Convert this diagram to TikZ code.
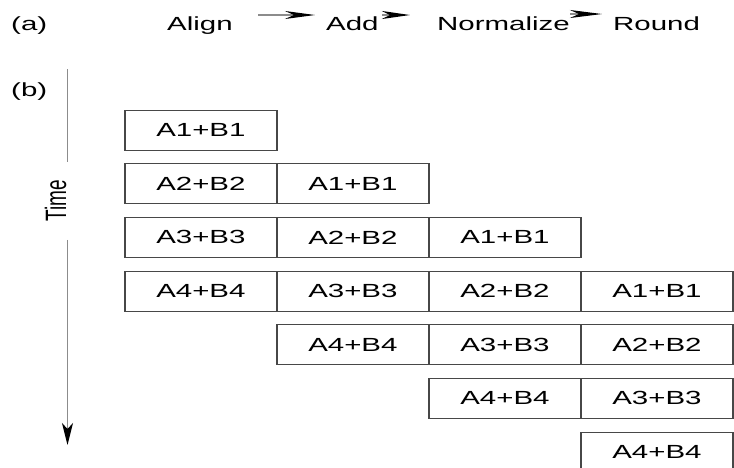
\documentclass[tikz,border=0pt]{standalone}
\usepackage{graphicx}
\usepackage{fontspec}
\setmainfont{Liberation Sans}[FakeStretch=1.55]
\newfontfamily\plainsans{Liberation Sans}
\usetikzlibrary{arrows.meta}
\begin{document}
\begin{tikzpicture}[x=1pt,y=-1pt,
  txt/.style={inner sep=0pt, anchor=base west, font=\fontsize{19}{22}\selectfont, text=black},
  cell/.style={draw=black!72, line width=1.2pt, minimum width=152pt, minimum height=40pt,
               inner sep=0pt, anchor=north west, font=\fontsize{19}{22}\selectfont, text=black},
  shaft/.style={draw=black!45, line width=1.3pt},
  timeline/.style={draw=black!45, line width=1.6pt}]
\useasboundingbox (0,0) rectangle (734,467);
\clip (0,0) rectangle (734,467);

% (a) pipeline stages
\node[txt] (la) at (11,30) {(a)};
\node[txt] (align) at (167,30) {Align};
\node[txt] (add) at (326,30) {Add};
\node[txt] (norm) at (437,30) {Normalize};
\node[txt] (round) at (613,30) {Round};

\coordinate (a1s) at (258,15); \coordinate (a1e) at (315,15);
\coordinate (a2s) at (382,15); \coordinate (a2e) at (410,15);
\coordinate (a3s) at (570,14); \coordinate (a3e) at (602,14);
\draw[shaft, -{Stealth[length=30pt,width=8pt,inset=9pt,color=black]}] (a1s) -- (a1e);
\draw[shaft, -{Stealth[length=28pt,width=8pt,inset=8pt,color=black]}] (a2s) -- (a2e);
\draw[shaft, -{Stealth[length=32pt,width=8pt,inset=9pt,color=black]}] (a3s) -- (a3e);

% (b) time axis
\node[txt] (lb) at (11,96.5) {(b)};
\node[inner xsep=18pt, inner ysep=0pt, rotate=90, text=black,
      font=\plainsans\fontsize{19}{22}\selectfont] (time) at (55.5,201) {\scalebox{1}[1.55]{Time}};
\coordinate (ttop) at (67.5,69);
\coordinate (tbot) at (67.5,445);
\draw[timeline] (ttop) -- (ttop |- time.east);
\draw[timeline, -{Stealth[length=22pt,width=11pt,inset=6pt,color=black]}] (ttop |- time.west) -- (tbot);

% pipelined operations: row r, stage c holds operand pair r-c+1
\foreach \r in {1,...,7}{
  \foreach \c in {1,...,4}{
    \pgfmathtruncatemacro\k{\r-\c+1}
    \ifnum\k>0 \ifnum\k<5
      \node[cell] (b\r-\c) at ({124.3+152*(\c-1)}, {109.5+53.67*(\r-1)}) {A\k+B\k};
    \fi\fi
  }
}
\end{tikzpicture}
\end{document}
